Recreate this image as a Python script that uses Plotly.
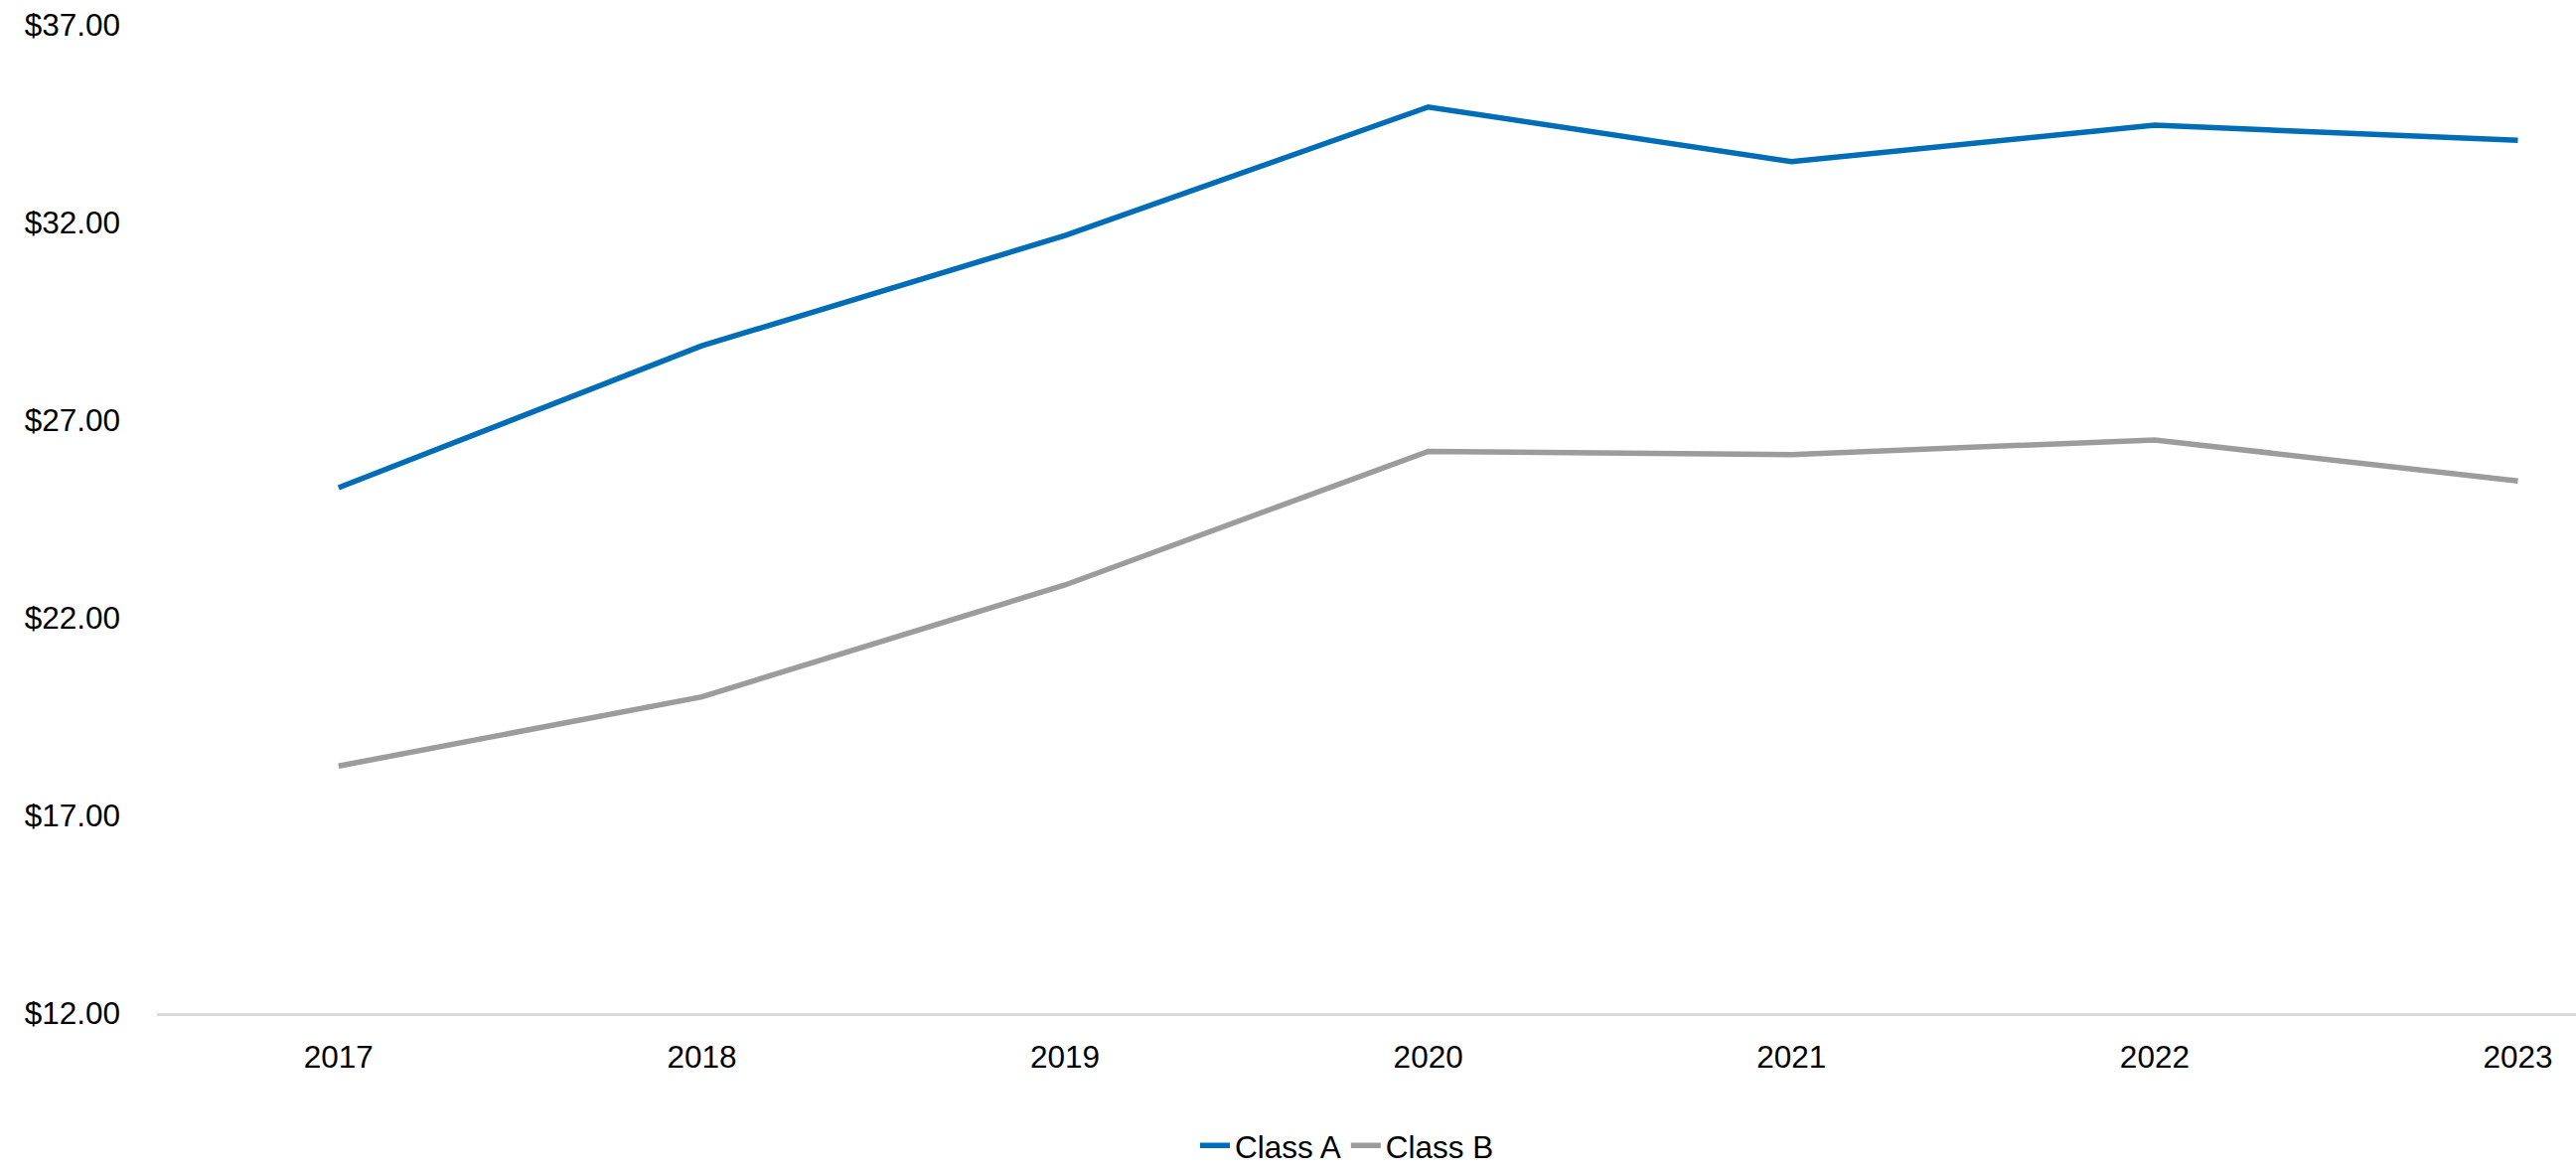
import plotly.graph_objects as go

years = ["2017", "2018", "2019", "2020", "2021", "2022", "2023"]
class_a = [25.29, 28.88, 31.67, 34.92, 33.54, 34.46, 34.08]
class_b = [18.25, 20.00, 22.83, 26.21, 26.13, 26.50, 25.46]
y_ticks = [12, 17, 22, 27, 32, 37]

FONT = "Liberation Sans, Arial, sans-serif"

fig = go.Figure()
fig.add_trace(go.Scatter(x=years, y=class_a, mode="lines", name="Class A",
                         line=dict(color="#006DB6", width=5.5)))
fig.add_trace(go.Scatter(x=years, y=class_b, mode="lines", name="Class B",
                         line=dict(color="#9C9C9C", width=5.5)))

fig.update_layout(
    width=2593, height=1179,
    margin=dict(l=158, r=0, t=25, b=159, autoexpand=False),
    paper_bgcolor="white", plot_bgcolor="white",
    font=dict(family=FONT, size=31.5, color="#000000"),
    showlegend=True,
    legend=dict(orientation="h", x=0.492, xanchor="center", y=-0.134, yanchor="middle",
                font=dict(family=FONT, size=31.5, color="#000000"), itemwidth=30,
                tracegroupgap=0),
    xaxis=dict(type="category", range=[-0.5, 6.16], showgrid=False, zeroline=False,
               showline=True, linecolor="#D9D9D9", linewidth=2.5,
               ticks="", ticklabelstandoff=14,
               tickfont=dict(family=FONT, size=31.5, color="#000000")),
    yaxis=dict(range=[12, 37], tickvals=y_ticks, tickformat="$.2f",
               showgrid=False, zeroline=False, showline=False, ticks="",
               ticklabelstandoff=36,
               tickfont=dict(family=FONT, size=31.5, color="#000000")),
)

fig.write_html("out.html")
